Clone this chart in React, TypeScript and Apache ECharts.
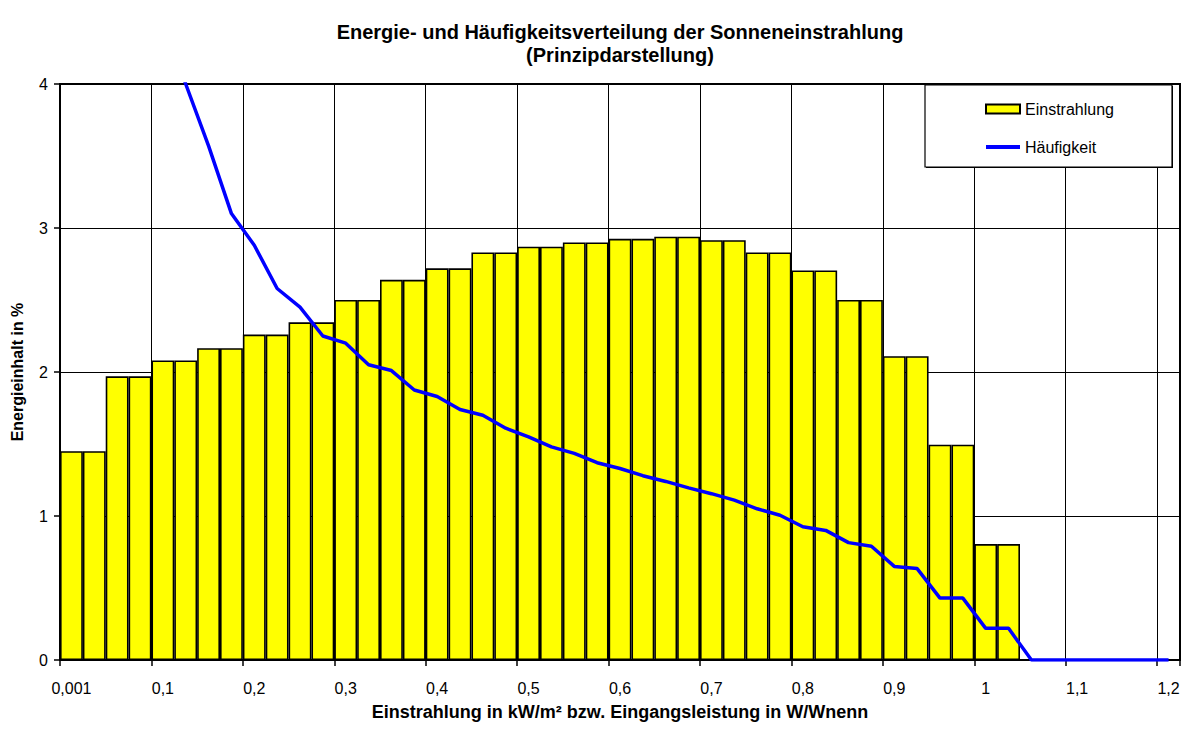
import React, { useEffect, useRef } from 'react';
import * as echarts from 'echarts';

const categories = [
  '0,001', '0,025', '0,05', '0,075', '0,1', '0,125', '0,15', '0,175',
  '0,2', '0,225', '0,25', '0,275', '0,3', '0,325', '0,35', '0,375',
  '0,4', '0,425', '0,45', '0,475', '0,5', '0,525', '0,55', '0,575',
  '0,6', '0,625', '0,65', '0,675', '0,7', '0,725', '0,75', '0,775',
  '0,8', '0,825', '0,85', '0,875', '0,9', '0,925', '0,95', '0,975',
  '1', '1,025', '1,05', '1,075', '1,1', '1,125', '1,15', '1,175', '1,2',
];

const einstrahlung = [
  1.45, 1.45, 1.97, 1.97, 2.08, 2.08, 2.165, 2.165,
  2.26, 2.26, 2.345, 2.345, 2.5, 2.5, 2.64, 2.64,
  2.72, 2.72, 2.83, 2.83, 2.87, 2.87, 2.9, 2.9,
  2.925, 2.925, 2.94, 2.94, 2.915, 2.915, 2.83, 2.83,
  2.705, 2.705, 2.5, 2.5, 2.11, 2.11, 1.495, 1.495,
  0.805, 0.805, 0, 0, 0, 0, 0, 0, 0,
];

const haeufigkeit = [
  9.0, 7.0, 5.8, 5.0, 4.45, 4.0, 3.57, 3.1,
  2.88, 2.58, 2.45, 2.25, 2.2, 2.05, 2.01, 1.875,
  1.83, 1.74, 1.7, 1.61, 1.55, 1.48, 1.435, 1.37,
  1.33, 1.28, 1.24, 1.195, 1.155, 1.11, 1.05, 1.005,
  0.925, 0.9, 0.815, 0.79, 0.65, 0.635, 0.43, 0.43,
  0.22, 0.22, 0, 0, 0, 0, 0, 0, 0,
];

const yTicks = [0, 1, 2, 3, 4];

const FONT = "'Liberation Sans', Arial, sans-serif";

export default function App() {
  const ref = useRef<HTMLDivElement>(null);

  useEffect(() => {
    const chart = echarts.init(ref.current as HTMLDivElement, null, { renderer: 'svg' });
    chart.setOption({
      animation: false,
      backgroundColor: '#ffffff',
      textStyle: { fontFamily: FONT, color: '#000' },
      title: {
        text: 'Energie- und Häufigkeitsverteilung der Sonneneinstrahlung\n(Prinzipdarstellung)',
        left: 620,
        top: 20,
        textAlign: 'center',
        padding: 0,
        textStyle: {
          fontFamily: FONT,
          fontSize: 20,
          fontWeight: 'bold',
          color: '#000',
          lineHeight: 23,
        },
      },
      grid: {
        left: 60,
        right: 10,
        top: 84,
        bottom: 71,
        show: true,
        borderColor: '#000',
        borderWidth: 2,
        backgroundColor: 'transparent',
      },
      legend: {
        orient: 'vertical',
        left: 985,
        top: 101,
        padding: 0,
        itemGap: 22,
        itemWidth: 34,
        itemHeight: 9,
        z: 5,
        textStyle: { fontFamily: FONT, fontSize: 16, color: '#000', lineHeight: 16 },
        data: [
          { name: 'Einstrahlung', icon: 'rect' },
          { name: 'Häufigkeit', icon: 'path://M0,0L34,0L34,4L0,4Z' },
        ],
      },
      graphic: [
        {
          type: 'rect',
          z: 3,
          shape: { x: 926, y: 86, width: 247, height: 82 },
          style: { fill: '#000' },
        },
        {
          type: 'rect',
          z: 3,
          shape: { x: 925, y: 85, width: 247, height: 82 },
          style: { fill: '#fff', stroke: '#000', lineWidth: 1.2 },
        },
      ],
      xAxis: {
        type: 'category',
        data: categories,
        boundaryGap: true,
        name: 'Einstrahlung in kW/m² bzw. Eingangsleistung in W/Wnenn',
        nameLocation: 'middle',
        nameGap: 43,
        nameTextStyle: { fontFamily: FONT, fontSize: 18, fontWeight: 'bold', color: '#000' },
        axisLine: { lineStyle: { color: '#000', width: 2 } },
        axisTick: { show: true, interval: 3, length: 6, lineStyle: { color: '#000', width: 1.5 } },
        axisLabel: { interval: 3, margin: 20, fontFamily: FONT, fontSize: 16, color: '#000' },
        splitLine: { show: true, interval: 3, lineStyle: { color: '#000', width: 1 } },
      },
      yAxis: {
        type: 'value',
        min: yTicks[0],
        max: yTicks[yTicks.length - 1],
        interval: 1,
        name: 'Energieinhalt in %',
        nameLocation: 'middle',
        nameGap: 35,
        nameRotate: 90,
        nameTextStyle: { fontFamily: FONT, fontSize: 16, fontWeight: 'bold', color: '#000' },
        axisLine: { show: true, lineStyle: { color: '#000', width: 2 } },
        axisTick: { show: true, length: 6, lineStyle: { color: '#000', width: 1.5 } },
        axisLabel: { margin: 12, fontFamily: FONT, fontSize: 16, color: '#000' },
        splitLine: { show: true, lineStyle: { color: '#000', width: 1 } },
      },
      series: [
        {
          name: 'Einstrahlung',
          type: 'bar',
          data: einstrahlung,
          barCategoryGap: '0%',
          barGap: '0%',
          itemStyle: { color: '#ffff00', borderColor: '#000', borderWidth: 1.6 },
        },
        {
          name: 'Häufigkeit',
          type: 'line',
          data: haeufigkeit,
          symbol: 'none',
          showSymbol: false,
          clip: true,
          lineStyle: { color: '#0000ff', width: 3.5 },
          itemStyle: { color: '#0000ff' },
        },
      ],
    });
    return () => chart.dispose();
  }, []);

  return (
    <div
      ref={ref}
      style={{ position: 'fixed', left: 0, top: 0, width: 1190, height: 731, background: '#fff' }}
    />
  );
}
